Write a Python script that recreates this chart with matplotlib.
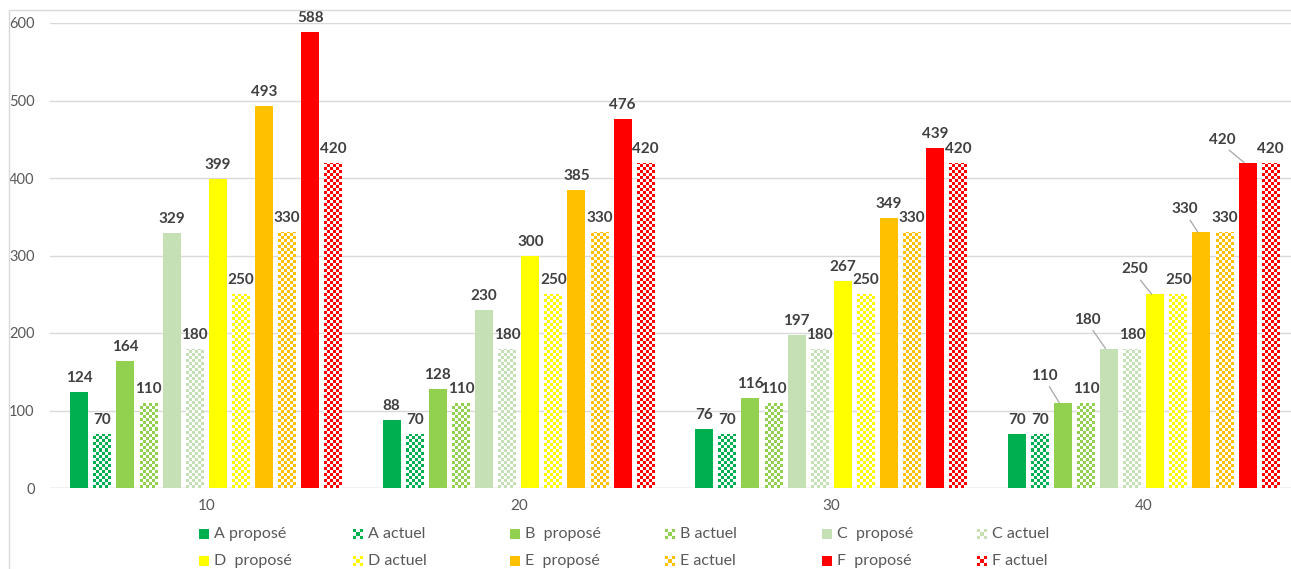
import numpy as np
import matplotlib.pyplot as plt
from matplotlib.patches import Rectangle

plt.rcParams['font.family'] = ['Lato', 'DejaVu Sans']

# data
groups = ['10', '20', '30', '40']
series = ['A', 'B', 'C', 'D', 'E', 'F']
propose = {
    'A': [124, 88, 76, 70],
    'B': [164, 128, 116, 110],
    'C': [329, 230, 197, 180],
    'D': [399, 300, 267, 250],
    'E': [493, 385, 349, 330],
    'F': [588, 476, 439, 420],
}
actuel = {
    'A': [70, 70, 70, 70],
    'B': [110, 110, 110, 110],
    'C': [180, 180, 180, 180],
    'D': [250, 250, 250, 250],
    'E': [330, 330, 330, 330],
    'F': [420, 420, 420, 420],
}
labels_p = ['A proposé', 'B  proposé', 'C  proposé', 'D  proposé', 'E  proposé', 'F  proposé']
labels_a = ['A actuel', 'B actuel', 'C actuel', 'D actuel', 'E actuel', 'F actuel']
colors = ['#00B050', '#92D050', '#C5E0B4', '#FFFF00', '#FFC000', '#FF0000']

W, H = 1291, 569
fig = plt.figure(figsize=(W / 100, H / 100), dpi=100)
ax = fig.add_axes([50 / W, 81 / H, 1250 / W, 465 / H])

step = 0.0739
width = 0.0576
x = np.arange(len(groups))
ymax = 600
cell_h = 3 * ymax / 465.0


def checker(ax, bar, color):
    x0 = bar.get_x()
    w = bar.get_width()
    h = bar.get_height()
    nx = 6
    ny = int(np.ceil(h / cell_h)) + 1
    rgba = np.array(plt.matplotlib.colors.to_rgba(color))
    img = np.ones((ny, nx, 4))
    for i in range(ny):
        for j in range(nx):
            if (i + j) % 2 == 0:
                img[i, j] = rgba
    im = ax.imshow(img, extent=(x0, x0 + w, 0, ny * cell_h), origin='lower',
                   interpolation='nearest', aspect='auto', zorder=2)
    im.set_clip_path(bar)


# label offsets in px for group 40 proposé (with leader lines)
lead = {'B': (-15, 20), 'C': (-18, 22), 'D': (-17, 18), 'E': (-13, 16), 'F': (-22, 16)}
lab_kw = dict(ha='center', va='bottom', fontsize=11, fontweight='bold', color='#404040')

for k, s in enumerate(series):
    xp = x - 5.5 * step + (2 * k) * step
    xa = xp + step
    bp = ax.bar(xp, propose[s], width, color=colors[k], zorder=2)
    ba = ax.bar(xa, actuel[s], width, color='none', linewidth=0, zorder=2)
    for bar in ba:
        checker(ax, bar, colors[k])
    for g in range(len(groups)):
        v = propose[s][g]
        if g == 3 and s in lead:
            dx, dy = lead[s]
            ax.annotate(str(v), xy=(xp[g] - width * 0.2, v), xytext=(dx * 0.72, dy * 0.72),
                        textcoords='offset points', **lab_kw,
                        arrowprops=dict(arrowstyle='-', color='#A6A6A6', lw=0.9,
                                        shrinkA=1, shrinkB=0, relpos=(0.6, 0)))
        else:
            ax.annotate(str(v), xy=(xp[g], v), xytext=(0, 5), textcoords='offset points',
                        **lab_kw)
        va_ = actuel[s][g]
        ax.annotate(str(va_), xy=(xa[g], va_), xytext=(0, 5), textcoords='offset points',
                    **lab_kw)

ax.set_xlim(-0.5, 3.5)
ax.set_ylim(0, ymax)
ax.set_yticks(np.arange(0, 601, 100))
ax.yaxis.grid(True, color='#D9D9D9', lw=1)
ax.set_axisbelow(True)
for sp in ax.spines.values():
    sp.set_visible(False)
ax.tick_params(axis='y', length=0, pad=11, labelsize=10.5, labelcolor='#595959')
ax.set_xticks(x)
ax.set_xticklabels(groups)
ax.tick_params(axis='x', length=0, pad=8, labelsize=11, labelcolor='#595959')
ax.axhline(0, color='#D9D9D9', lw=1, zorder=1)

# legend, laid out by hand (two rows of six)
col_x = [199, 353, 510, 665, 822, 977]
row_y = [534, 561]
entries = []
for k in range(6):
    entries.append((labels_p[k], colors[k], False))
    entries.append((labels_a[k], colors[k], True))
for n, (lab, col, chk) in enumerate(entries):
    r, c = divmod(n, 6)
    px, py = col_x[c], row_y[r]
    m = 10
    if chk:
        cs = m / 3
        for i in range(3):
            for j in range(3):
                if (i + j) % 2 == 0:
                    fig.patches.append(Rectangle(((px + j * cs) / W, (H - py - m / 2 + i * cs) / H),
                                                 cs / W, cs / H, transform=fig.transFigure,
                                                 facecolor=col, edgecolor='none'))
    else:
        fig.patches.append(Rectangle((px / W, (H - py - m / 2) / H), m / W, m / H,
                                     transform=fig.transFigure, facecolor=col,
                                     edgecolor='none'))
    fig.text((px + 15) / W, (H - py) / H, lab, ha='left', va='center',
             fontsize=11.5, color='#595959')

# chart border
fig.patches.append(Rectangle((9 / W, -0.1), 1.2, (H - 10) / H + 0.1, transform=fig.transFigure,
                             facecolor='none', edgecolor='#D9D9D9', lw=1))

fig.savefig('out.png', dpi=100)
